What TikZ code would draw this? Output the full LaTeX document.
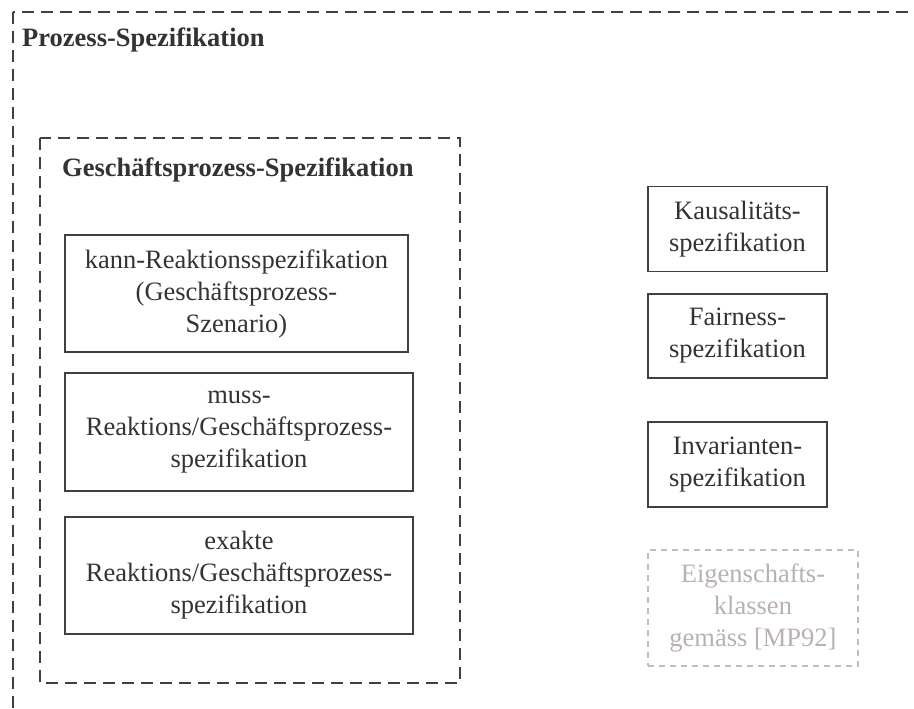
\documentclass[tikz,border=0pt]{standalone}
\usepackage{fontspec}
\setmainfont{Liberation Serif}
\begin{document}
\begin{tikzpicture}[x=1pt,y=-1pt,
  txt/.style={font=\fontsize{26.5}{32}\selectfont, text=black!80},
  title/.style={txt, font=\fontsize{26.5}{32}\selectfont\bfseries, anchor=base west, inner sep=0pt},
  frame/.style={draw=black!75, line width=2.2pt, dash pattern=on 12pt off 7pt},
  specbox/.style={txt, draw=black!75, line width=1.9pt, align=center, inner sep=0pt},
  greybox/.style={txt, text=greytxt, draw=greyline, line width=1.9pt, dash pattern=on 6pt off 5pt, align=center, inner sep=0pt}]
\definecolor{greytxt}{RGB}{186,176,176}
\definecolor{greyline}{RGB}{196,188,188}
\useasboundingbox (0,0) rectangle (914,709);
\clip (0,0) rectangle (914,709);

% outer process frame (runs past the right and bottom edges)
\coordinate (outerTL) at (13,12);
\coordinate (outerBR) at (930,730);
\draw[frame] (outerTL) rectangle (outerBR);
\node[title] (proc) at (22,47) {Prozess-Spezifikation};

% business process frame
\coordinate (innerTL) at (40,138);
\coordinate (innerBR) at (460,683);
\draw[frame] (innerTL) rectangle (innerBR);
\node[title] (gp) at (62,176) {Geschäftsprozess-Spezifikation};

% left column
\node[specbox, minimum width=343pt, minimum height=117pt] (kann) at (236.5,293.5)
  {kann-Reaktionsspezifikation\\(Geschäftsprozess-\\Szenario)};
\node[specbox, minimum width=348pt, minimum height=118pt] (muss) at (239,432)
  {muss-\\Reaktions/Geschäftsprozess-\\spezifikation};
\node[specbox, minimum width=348pt, minimum height=117pt] (exakt) at (239,575.5)
  {exakte\\Reaktions/Geschäftsprozess-\\spezifikation};

% right column
\node[specbox, minimum width=179pt, minimum height=85pt] (kaus) at (737.5,229)
  {Kausalitäts-\\spezifikation};
\node[specbox, minimum width=179pt, minimum height=84pt] (fair) at (737.5,336)
  {Fairness-\\spezifikation};
\node[specbox, minimum width=179pt, minimum height=85pt] (inv) at (737.5,464.5)
  {Invarianten-\\spezifikation};
\node[greybox, minimum width=210pt, minimum height=116pt] (eig) at (753,608)
  {Eigenschafts-\\klassen\\gemäss [MP92]};
\end{tikzpicture}
\end{document}
